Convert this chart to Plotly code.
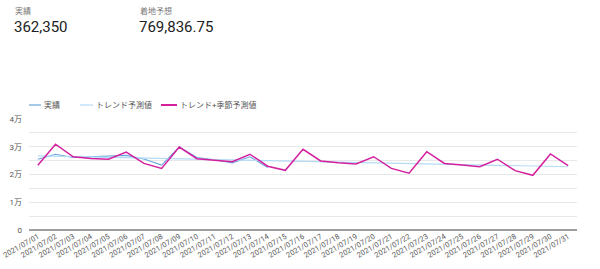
import plotly.graph_objects as go

dates = [f"2021/07/{d:02d}" for d in range(1, 32)]

actual = [25500, 27300, 26100, 26400, 26700, 26900, 25600, 23400, 29900, 26100,
          25300, 24200, 26400, 22550]

trend = [26700, 26570, 26440, 26310, 26180, 26050, 25920, 25790, 25660, 25530,
         25400, 25270, 25140, 25010, 24880, 24750, 24620, 24490, 24360, 24230,
         24100, 23970, 23840, 23710, 23580, 23450, 23320, 23190, 23060, 22930, 22800]

trend_season = [23300, 30900, 26400, 25800, 25500, 28100, 24000, 22200, 29900, 25700,
                25100, 24600, 27300, 23000, 21500, 29100, 24900, 24200, 23800, 26400,
                22200, 20500, 28200, 24000, 23400, 22800, 25500, 21400, 19700, 27400, 23200]

series_names = ["実績", "トレンド予測値", "トレンド+季節予測値"]
series_colors = ["#6aa6dc", "#b3dbf7", "#d4209f"]

kpi_labels = ["実績", "着地予想"]
kpi_values = ["362,350", "769,836.75"]

y_tickvals = [0, 5000, 10000, 15000, 20000, 25000, 30000, 35000, 40000]
y_ticktext = ["0", "", "1万", "", "2万", "", "3万", "", "4万"]

FONT = "Roboto, 'Noto Sans CJK JP', sans-serif"
L, R, T, B = 29, 23, 119, 39
PW, PH = 600 - L - R, 269 - T - B


def px(x):
    return (x - L) / PW


def py(y):
    return 1 + (T - y) / PH


fig = go.Figure()
fig.add_trace(go.Scatter(x=dates[:len(actual)], y=actual, name=series_names[0], mode="lines",
                         line=dict(color=series_colors[0], width=1.1)))
fig.add_trace(go.Scatter(x=dates, y=trend, name=series_names[1], mode="lines",
                         line=dict(color=series_colors[1], width=1.2)))
fig.add_trace(go.Scatter(x=dates, y=trend_season, name=series_names[2], mode="lines",
                         line=dict(color=series_colors[2], width=1.5)))

# KPI header
kpi_x = [14, 139]
for lbl, val, xp in zip(kpi_labels, kpi_values, kpi_x):
    fig.add_annotation(xref="paper", yref="paper", x=px(xp), y=py(11),
                       text=lbl, showarrow=False, xanchor="left", yanchor="middle",
                       xshift=-1, font=dict(size=8, color="#777777", family=FONT))
    fig.add_annotation(xref="paper", yref="paper", x=px(xp), y=py(27),
                       text=val, showarrow=False, xanchor="left", yanchor="middle",
                       xshift=-2, font=dict(size=15, color="#222222", family=FONT))

# legend (compact, like the reference)
leg_samples = [(29, 41), (80, 93), (161, 177)]
leg_y = 105
for name, col, (x0, x1), w in zip(series_names, series_colors, leg_samples, [1.2, 1.2, 2]):
    fig.add_shape(type="line", xref="paper", yref="paper", x0=px(x0), x1=px(x1),
                  y0=py(leg_y), y1=py(leg_y), line=dict(color=col, width=w))
    fig.add_annotation(xref="paper", yref="paper", x=px(x1 + 2), y=py(leg_y),
                       text=name, showarrow=False, xanchor="left", yanchor="middle",
                       xshift=-1, font=dict(size=8, color="#555555", family=FONT))

fig.update_layout(
    width=600, height=269,
    margin=dict(l=L, r=R, t=T, b=B),
    paper_bgcolor="white", plot_bgcolor="white",
    font=dict(family=FONT, size=8, color="#555555"),
    showlegend=False,
    xaxis=dict(type="category", range=[-0.5, 30.5], tickangle=-30, showgrid=False,
               tickfont=dict(size=7.5, color="#555555"), ticks="", showline=False,
               zeroline=False, automargin=False),
    yaxis=dict(range=[0, 40000], tickvals=y_tickvals, ticktext=y_ticktext,
               gridcolor="#e8e8e8", gridwidth=1, zeroline=True, zerolinecolor="#9e9e9e",
               zerolinewidth=2, tickfont=dict(size=8, color="#555555"), ticks="",
               showline=False, ticklabelstandoff=6, automargin=False),
)

fig.write_html("out.html")
